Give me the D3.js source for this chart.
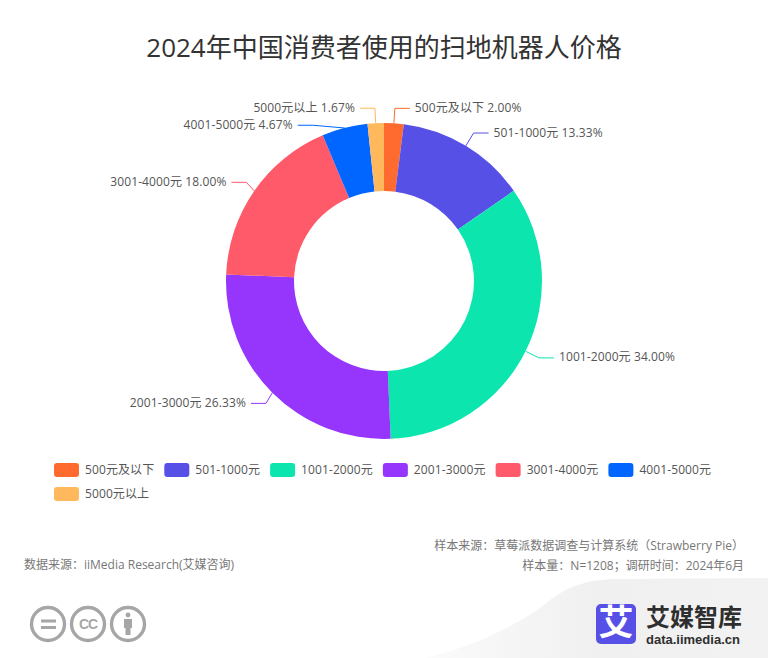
<!DOCTYPE html>
<html><head><meta charset="utf-8">
<script src="https://cdn.jsdelivr.net/npm/d3@7/dist/d3.min.js"></script>
<style>html,body{margin:0;padding:0;background:#fff}svg{display:block}text{font-family:"Open Sans","Noto Sans CJK SC",sans-serif}</style>
</head><body><svg id="c" width="768" height="658"></svg>
<script>
const titleText = "2024年中国消费者使用的扫地机器人价格";
const categories = ["500元及以下","501-1000元","1001-2000元","2001-3000元","3001-4000元","4001-5000元","5000元以上"];
const shares = [2.00,13.33,34.00,26.33,18.00,4.67,1.67];
const colors = ["#ff6b2e","#5650e6","#0ce6ae","#9635fb","#ff5a6a","#0066ff","#ffb85c"];
const sourceLeft = "数据来源：iiMedia Research(艾媒咨询)";
const sourceRight = ["样本来源：草莓派数据调查与计算系统（Strawberry Pie）","样本量：N=1208；调研时间：2024年6月"];

const svg = d3.select("#c");
const cx=384, cy=281, R=158, r0=90, RL=173, len2=15, gap=5, minGap=17, ellA=168, ellB=172;
const ls="0.1px";

// footer background
const defs = svg.append("defs");
const g = defs.append("linearGradient").attr("id","bg").attr("x1",0).attr("x2",1).attr("y1",0).attr("y2",0);
g.append("stop").attr("offset","0").attr("stop-color","#fbfbfb");
g.append("stop").attr("offset","0.5").attr("stop-color","#f0f0f0");
g.append("stop").attr("offset","1").attr("stop-color","#f2f2f2");
svg.append("path").attr("fill","url(#bg)")
  .attr("d","M424,658 C470,648 520,625 550,600 C570,585 590,579 620,579 L768,578 L768,658 Z");

// title
svg.append("text").attr("x",384).attr("y",57).attr("text-anchor","middle")
  .attr("font-size",26).attr("fill","#333").text(titleText);

// donut
const pie = d3.pie().value(d=>d).sort(null);
const arcs = pie(shares);
const arc = d3.arc().innerRadius(r0).outerRadius(R);
const root = svg.append("g").attr("transform",`translate(${cx},${cy})`);
root.selectAll("path").data(arcs).join("path").attr("d",arc).attr("fill",(d,i)=>colors[i]);

// label layout with vertical overlap avoidance
const items = arcs.map((d,i)=>{
  const a=(d.startAngle+d.endAngle)/2, s=Math.sin(a), c=Math.cos(a);
  return {i,a,s,c,side:s>=0?1:-1,x0:R*s,y0:-R*c,ex:RL*s,ey:-RL*c};
});
[1,-1].forEach(side=>{
  const list=items.filter(o=>o.side===side).sort((p,q)=>p.ey-q.ey);
  let shifted=false;
  for(let k=1;k<list.length;k++){
    if(list[k].ey-list[k-1].ey<minGap){
      list[k].ey=list[k-1].ey+minGap;
      shifted=true;
    }
  }
  if(shifted) list.forEach(o=>{
    if(Math.abs(o.ey)<ellB) o.ex=side*ellA*Math.sqrt(1-o.ey*o.ey/(ellB*ellB));
  });
});
const labels=svg.append("g").attr("transform",`translate(${cx},${cy})`);
items.forEach(o=>{
  const endX=o.ex+o.side*len2;
  labels.append("path").attr("fill","none").attr("stroke",colors[o.i]).attr("stroke-width",1)
    .attr("d",`M${o.x0},${o.y0}L${o.ex},${o.ey}L${endX},${o.ey}`);
  labels.append("text").attr("x",endX+o.side*gap).attr("y",o.ey).attr("dy","0.3em")
    .attr("text-anchor",o.side>0?"start":"end").attr("font-size",12).attr("fill","#555")
    .style("letter-spacing",ls)
    .text(`${categories[o.i]} ${shares[o.i].toFixed(2)}%`);
});

// legend
const leg=svg.append("g");
let lx=54, ly=463;
categories.forEach((c,i)=>{
  const it=leg.append("g");
  const t=it.append("text").attr("x",lx+31).attr("y",ly+7).attr("dy","0.36em").attr("font-size",12).attr("fill","#555")
    .style("letter-spacing",ls).text(c);
  let w=t.node().getComputedTextLength();
  if(lx+31+w>730){lx=54;ly+=24;t.attr("x",lx+31).attr("y",ly+7);}
  it.append("rect").attr("x",lx).attr("y",ly).attr("width",25).attr("height",14).attr("rx",3).attr("fill",colors[i]);
  lx+=31+w+10;
});

// sources
svg.append("text").attr("x",24).attr("y",569).attr("font-size",12).attr("fill","#777").text(sourceLeft);
svg.append("text").attr("x",744).attr("y",550).attr("text-anchor","end").attr("font-size",12).attr("fill","#777").text(sourceRight[0]);
svg.append("text").attr("x",744).attr("y",570).attr("text-anchor","end").attr("font-size",12).attr("fill","#777").text(sourceRight[1]);

// licence icons
const ic=svg.append("g").attr("fill","none").attr("stroke","#a6a6a6").attr("stroke-width",3.4);
[48,88,128].forEach(x=>ic.append("circle").attr("cx",x).attr("cy",624).attr("r",16.5));
const ig=svg.append("g").attr("fill","#a6a6a6");
ig.append("rect").attr("x",41).attr("y",619.5).attr("width",15).attr("height",3);
ig.append("rect").attr("x",41).attr("y",626).attr("width",15).attr("height",3);
svg.append("text").attr("x",88).attr("y",629).attr("text-anchor","middle").attr("font-size",14).attr("font-weight",700)
  .attr("fill","#a6a6a6").attr("style","font-family:'Liberation Sans',sans-serif;letter-spacing:-1px").text("CC");
ig.append("circle").attr("cx",128).attr("cy",615).attr("r",2.4);
ig.append("path").attr("d","M124,619 h8 v9 h-1.5 v7 h-5 v-7 h-1.5 z");

// brand
svg.append("rect").attr("x",596).attr("y",604).attr("width",40).attr("height",40).attr("rx",5).attr("fill","#5650e6");
svg.append("text").attr("x",616).attr("y",635).attr("text-anchor","middle").attr("font-size",35).attr("font-weight",700).attr("fill","#fff").attr("style","font-family:'Noto Sans CJK SC'").text("艾");
svg.append("text").attr("x",646).attr("y",626).attr("font-size",24).attr("font-weight",700).attr("fill","#2e2e2e").attr("style","font-family:'Noto Sans CJK SC'").text("艾媒智库");
svg.append("text").attr("x",646).attr("y",644).attr("font-size",13).attr("font-weight",700).attr("fill","#2e2e2e").attr("style","font-family:'Liberation Sans',sans-serif").text("data.iimedia.cn");
</script></body></html>
